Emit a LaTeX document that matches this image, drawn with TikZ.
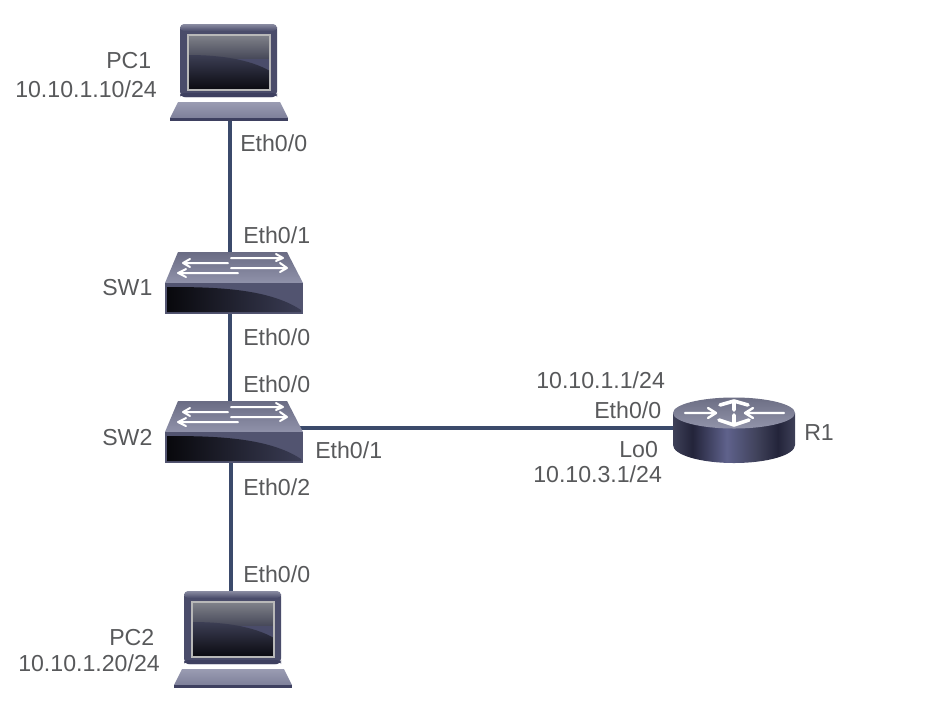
\documentclass[tikz,border=0pt]{standalone}
\usepackage{fontspec}
\setmainfont{Liberation Sans}
\definecolor{rsa}{HTML}{23243A}
\definecolor{rsb}{HTML}{3E4058}
\definecolor{rsc}{HTML}{5F628C}
\definecolor{wire}{HTML}{3B4A6B}
\definecolor{labelgray}{HTML}{58595B}
\definecolor{edgeblue}{HTML}{3E4060}
\definecolor{bezel}{HTML}{4A4C6A}
\definecolor{bezeltop}{HTML}{8A8CA2}
\definecolor{scrtop}{HTML}{80828A}
\definecolor{scrmid}{HTML}{484A5A}
\definecolor{scrlow}{HTML}{3C3E54}
\definecolor{scrdark}{HTML}{0A0A10}
\definecolor{kbtop}{HTML}{9A9CB2}
\definecolor{kbbot}{HTML}{7E809A}
\definecolor{swtop}{HTML}{6A6C84}
\definecolor{swbot}{HTML}{9092AA}
\definecolor{swfront}{HTML}{525470}
\definecolor{swdark}{HTML}{08080C}
\definecolor{swlight}{HTML}{3A3C54}
\definecolor{rttop}{HTML}{6C6E84}
\definecolor{rtbot}{HTML}{9294AA}
\pgfdeclarehorizontalshading{rtrside}{100bp}{color(0bp)=(rsb); color(25bp)=(rsb); color(33bp)=(rsa); color(47bp)=(rsc); color(60bp)=(rsb); color(68bp)=(rsa); color(75bp)=(rsb); color(100bp)=(rsb)}
\tikzset{
  lbl/.style={inner sep=0pt,anchor=base west,text=labelgray,font=\fontsize{17.35pt}{20pt}\selectfont},
  devicenode/.style={inner sep=0pt,minimum width=1pt,minimum height=1pt},
  wirestyle/.style={draw=wire,line width=3pt},
  arrowline/.style={draw=white,line width=1.5pt,line cap=round,line join=round},
  pc/.pic={
    \fill[bezel,rounded corners=4pt] (-49,-97) rectangle (48,-24);
    \shade[top color=bezeltop,bottom color=bezel,rounded corners=3pt] (-49,-97) rectangle (48,-90);
    \fill[edgeblue,rounded corners=3pt] (-49,-28) rectangle (48,-24);
    \begin{scope}
      \clip (-41,-86) rectangle (41,-31);
      \shade[top color=scrtop,bottom color=scrmid] (-41,-86) rectangle (41,-63);
      \shade[top color=scrlow,bottom color=scrdark]
        (-41,-66) .. controls (-10,-66) and (20,-62) .. (41,-50) -- (41,-31) -- (-41,-31) -- cycle;
    \end{scope}
    \draw[black!28!white,line width=0.8pt] (-41,-86) rectangle (41,-31);
    \shade[top color=kbtop,bottom color=kbbot]
      (-51,-19) -- (51,-19) -- (59,-3) -- (-59,-3) -- cycle;
    \fill[edgeblue] (-59,-3) -- (59,-3) -- (59,-0.5) -- (-59,-0.5) -- cycle;
  },
  switchicon/.pic={
    \shade[top color=swtop,bottom color=swbot]
      (-55,-31) -- (54,-31) -- (70,0) -- (-68,0) -- cycle;
    \fill[swfront] (-68,0) rectangle (70,31);
    \begin{scope}
      \clip (-66,4) rectangle (68,29);
      \shade[left color=swdark,right color=swlight]
        (-66,4) .. controls (-20,4) and (35,5) .. (68,27) -- (68,29) -- (-66,29) -- cycle;
    \end{scope}
    \draw[arrowline] (-2,-25) -- (50,-25) (43,-29) -- (50,-25) -- (43,-22);
    \draw[arrowline] (-2,-15) -- (54,-15) (47,-20) -- (54,-15) -- (47,-11);
    \draw[arrowline] (-5,-20) -- (-50,-20) (-43,-24) -- (-50,-20) -- (-43,-16);
    \draw[arrowline] (5,-10) -- (-55,-10) (-47,-14) -- (-55,-10) -- (-47,-6);
  },
  routericon/.pic={
    \shade[shading=rtrside] (-61,0) -- (-61,32) arc[start angle=180,end angle=0,x radius=61,y radius=18] -- (61,0) -- cycle;
    \shade[top color=rttop,bottom color=rtbot]
      (0,0) ellipse[x radius=61,y radius=15.5];
    \draw[arrowline,line width=1.8pt] (-49,0) -- (-18,0) (-26,-5) -- (-18,0) -- (-26,5);
    \draw[arrowline,line width=1.8pt] (50,0) -- (11,0) (19,-5) -- (11,0) -- (19,5);
    \draw[arrowline,line width=2.7pt] (0,-3) -- (0,-12) (-14,-8) -- (0,-12) -- (14,-8);
    \draw[arrowline,line width=2.7pt] (0,2) -- (0,12) (-15,7) -- (0,12) -- (15,7);
  },
}
\begin{document}
\begin{tikzpicture}[x=0.75pt,y=-0.75pt]
\useasboundingbox (0,0) rectangle (937,707);
\node[devicenode] (pc1) at (230,119) {};
\node[devicenode] (sw1) at (230,283) {};
\node[devicenode] (sw2) at (231,428) {};
\node[devicenode] (pc2) at (231,640) {};
\node[devicenode] (r1) at (734,428) {};
\draw[wirestyle] (pc1) -- (sw1);
\draw[wirestyle] (sw1) -- (sw1 |- sw2);
\draw[wirestyle] (sw2) -- (pc2);
\draw[wirestyle] (sw2) -- (r1);
\pic at (229,121) {pc};
\pic at (233,283) {switchicon};
\pic at (233,432) {switchicon};
\pic at (233,688) {pc};
\pic at (734,413) {routericon};
\node[lbl] (tpc1) at (106,68) {PC1};
\node[lbl] (ipc1) at (15,97) {10.10.1.10/24};
\node[lbl] (e1) at (240,151) {Eth0/0};
\node[lbl] (e2) at (243,243) {Eth0/1};
\node[lbl] (tsw1) at (102,295) {SW1};
\node[lbl] (e3) at (243,345) {Eth0/0};
\node[lbl] (e4) at (243,392) {Eth0/0};
\node[lbl] (tsw2) at (102,445) {SW2};
\node[lbl] (e5) at (315,458) {Eth0/1};
\node[lbl] (e6) at (243,495) {Eth0/2};
\node[lbl] (e7) at (243,582) {Eth0/0};
\node[lbl] (tpc2) at (109,645) {PC2};
\node[lbl] (ipc2) at (18,671) {10.10.1.20/24};
\node[lbl] (ir1) at (536,388) {10.10.1.1/24};
\node[lbl] (e8) at (594,418) {Eth0/0};
\node[lbl] (lo) at (619,457) {Lo0};
\node[lbl] (ilo) at (533,482) {10.10.3.1/24};
\node[lbl] (tr1) at (804,440) {R1};
\end{tikzpicture}
\end{document}
